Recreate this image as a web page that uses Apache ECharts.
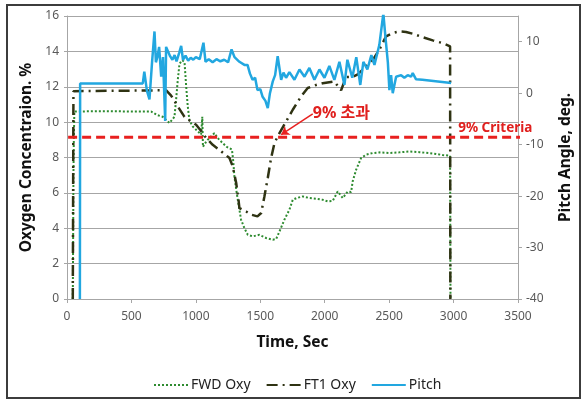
<!DOCTYPE html>
<html><head><meta charset="utf-8">
<script src="https://cdn.jsdelivr.net/npm/echarts@6/dist/echarts.min.js"></script>
<style>html,body{margin:0;padding:0;background:#fff}#c{width:582px;height:400px}</style>
</head><body><div id="c"></div>
<script>
// ---- data ----
const timeRange = [0, 3500];
const oxyTicks = [0, 2, 4, 6, 8, 10, 12, 14, 16];
const pitchTicks = [-40, -30, -20, -10, 0, 10];
const criteriaValue = 9.15;
const criteriaSpan = [-100, 3600];

const fwdOxy = [[45,0],[48,4],[50,7],[53,9],[57,10.6],[300,10.62],[500,10.6],[653,10.6],[700,10.4],[743,10.3],[795,9.95],[834,10.3],[847,11.3],[860,12.4],[873,13.3],[894,13.5],[912,13.4],[925,12.0],[937,10.9],[950,10.1],[976,9.75],[1002,9.57],[1041,9.3],[1050,10.3],[1055,8.6],[1080,8.9],[1105,9.1],[1144,9.38],[1170,9.1],[1196,8.9],[1240,8.6],[1280,8.45],[1290,7.8],[1299,6.93],[1317,6.0],[1338,5.05],[1351,4.48],[1377,4.0],[1403,3.63],[1441,3.54],[1493,3.63],[1545,3.45],[1597,3.35],[1623,3.39],[1649,3.82],[1687,4.48],[1726,5.05],[1752,5.61],[1783,5.71],[1830,5.8],[1881,5.71],[1933,5.67],[1984,5.61],[2023,5.52],[2062,5.55],[2101,6.08],[2140,5.71],[2179,6.08],[2205,6.05],[2217,6.65],[2244,7.31],[2282,7.97],[2321,8.16],[2372,8.25],[2424,8.29],[2502,8.25],[2580,8.29],[2657,8.34],[2735,8.3],[2812,8.25],[2864,8.2],[2915,8.14],[2973,8.1],[2976,0]];

const ft1Oxy = [[45,0],[50,11.75],[770,11.8],[808,11.5],[860,10.88],[912,10.3],[950,10.1],[1002,9.85],[1041,9.5],[1080,9.1],[1131,8.72],[1170,8.5],[1261,7.97],[1286,7.5],[1313,6.56],[1331,5.6],[1338,5.14],[1390,4.95],[1429,4.77],[1478,4.67],[1507,4.86],[1532,5.8],[1558,6.84],[1584,7.97],[1610,8.82],[1649,9.38],[1701,10.04],[1752,10.7],[1817,11.45],[1868,11.93],[1933,12.1],[1984,12.2],[2075,12.3],[2127,11.8],[2166,12.55],[2217,12.55],[2256,12.7],[2321,13.15],[2372,13.5],[2424,14.1],[2476,14.85],[2528,15.04],[2580,15.13],[2631,15.1],[2683,15.0],[2760,14.8],[2838,14.62],[2915,14.47],[2973,14.28],[2975,0]];

const pitch = [[100,-40],[102,1.9],[588,1.9],[600,4.2],[620,0.5],[640,-1.2],[660,6],[679,12],[690,6],[702,7.1],[715,9],[731,3.2],[745,7],[762,-5.4],[769,9.0],[782,8.7],[800,7.2],[818,6.5],[835,7.4],[850,6.2],[870,7.8],[886,9.2],[900,6.5],[920,7.3],[940,6.3],[960,6.9],[980,6.5],[1000,7.0],[1030,6.6],[1059,9.8],[1075,6.1],[1100,6.6],[1130,6.0],[1160,6.6],[1190,6.2],[1220,6.5],[1250,6.0],[1277,8.5],[1300,7.0],[1338,6.1],[1377,5.5],[1401,5.5],[1420,3.8],[1440,2.6],[1460,3.0],[1478,0.6],[1500,0.8],[1518,-0.7],[1540,-1.5],[1558,-2.9],[1575,0],[1597,2.3],[1615,3.5],[1635,7.2],[1662,2.6],[1680,4.0],[1700,3.0],[1726,4.1],[1765,2.6],[1804,4.6],[1843,3.2],[1881,4.9],[1920,2.6],[1959,4.6],[1998,3.0],[2036,5.3],[2075,2.6],[2114,6.1],[2153,1.6],[2176,6.5],[2214,3.0],[2245,7.0],[2276,1.6],[2300,6.1],[2331,4.6],[2362,7.4],[2386,5.5],[2424,9.4],[2455,15.5],[2471,11],[2490,6],[2502,0.6],[2515,3.5],[2528,0],[2541,-0.2],[2554,3.2],[2593,3.5],[2618,3.0],[2644,3.5],[2670,3.2],[2683,3.9],[2709,2.7],[2758,2.6],[2981,2.0]];

const arrowFrom = [1907, 10.46];
const arrowTo = [1662, 9.29];
const exceedLabel = {text: '9% 초과', at: [2130, 10.47]};
const criteriaLabel = {text: '9% Criteria', at: [3324, 9.67]};

// ---- chart ----
const FONT = '"Noto Sans", "Noto Sans CJK KR", sans-serif';
const gridColor = '#A6A6A6';
const labelColor = '#595959';
const chart = echarts.init(document.getElementById('c'), null, {renderer: 'canvas'});
chart.setOption({
  animation: false,
  backgroundColor: '#ffffff',
  textStyle: {fontFamily: FONT},
  graphic: [{
    type: 'rect', shape: {x: 7, y: 5, width: 573, height: 393},
    style: {fill: 'none', stroke: '#3c3c3c', lineWidth: 2}, silent: true, z: 100
  }],
  grid: {left: 67, right: 64, top: 16, bottom: 101, containLabel: false},
  legend: {
    data: ['FWD Oxy', 'FT1 Oxy', 'Pitch'],
    left: 148, top: 373,
    itemWidth: 34, itemHeight: 10, itemGap: 15,
    itemStyle: {opacity: 0},
    textStyle: {fontFamily: FONT, fontSize: 14, color: '#222', padding: [0, 0, 0, -2]}
  },
  xAxis: {
    type: 'value', min: timeRange[0], max: timeRange[1], interval: 500,
    name: 'Time, Sec', nameLocation: 'middle', nameGap: 36,
    nameTextStyle: {fontFamily: FONT, fontSize: 15.5, fontWeight: 'bold', color: '#111'},
    axisLine: {show: true, lineStyle: {color: gridColor}},
    axisTick: {show: true, length: 4, lineStyle: {color: gridColor}},
    axisLabel: {color: labelColor, fontSize: 12, fontFamily: FONT, margin: 12, formatter: v => String(v)},
    splitLine: {show: false}
  },
  yAxis: [{
    type: 'value', min: oxyTicks[0], max: oxyTicks[oxyTicks.length-1], interval: 2,
    name: 'Oxygen Concentraion. %', nameLocation: 'middle', nameGap: 31,
    nameTextStyle: {fontFamily: FONT, fontSize: 15.5, fontWeight: 'bold', color: '#111'},
    axisLine: {show: true, lineStyle: {color: gridColor}},
    axisTick: {show: true, length: 3, lineStyle: {color: gridColor}},
    axisLabel: {color: labelColor, fontSize: 12, fontFamily: FONT, margin: 8},
    splitLine: {show: true, lineStyle: {color: gridColor, width: 1}}
  }, {
    type: 'value', min: -40, max: 15, position: 'right',
    name: 'Pitch Angle, deg.', nameLocation: 'middle', nameGap: 40,
    nameTextStyle: {fontFamily: FONT, fontSize: 15.5, fontWeight: 'bold', color: '#111'},
    axisLine: {show: true, lineStyle: {color: gridColor}},
    axisTick: {show: true, length: 4, lineStyle: {color: gridColor}, customValues: pitchTicks},
    axisLabel: {color: labelColor, fontSize: 12, fontFamily: FONT, margin: 8, customValues: pitchTicks},
    splitLine: {show: false}
  }],
  series: [{
    name: 'FWD Oxy', type: 'line', yAxisIndex: 0, data: fwdOxy,
    symbol: 'none', color: '#2e8b30',
    lineStyle: {color: '#2e8b30', width: 2, type: [2, 2]}
  }, {
    name: 'FT1 Oxy', type: 'line', yAxisIndex: 0, data: ft1Oxy,
    symbol: 'none', color: '#2f3313',
    lineStyle: {color: '#2f3313', width: 2.5, type: [11, 5, 2, 5]}
  }, {
    name: 'Pitch', type: 'line', yAxisIndex: 1, data: pitch,
    symbol: 'none', color: '#22a7e0',
    lineStyle: {color: '#22a7e0', width: 2.5}
  }, {
    name: 'Criteria', type: 'line', yAxisIndex: 0, clip: false, z: 5,
    data: criteriaSpan.map(t => [t, criteriaValue]),
    symbol: 'none', color: '#e8201f',
    lineStyle: {color: '#e8201f', width: 3, type: [9, 5]},
    markLine: {
      silent: true, symbol: ['none', 'arrow'], symbolSize: 8,
      lineStyle: {color: '#e8201f', width: 1.5, type: 'solid'},
      label: {show: false},
      data: [[{coord: arrowFrom}, {coord: arrowTo}]]
    },
    markPoint: {
      silent: true, symbol: 'circle', symbolSize: 0,
      label: {show: true, position: 'inside', color: '#e0201e', fontWeight: 'bold', fontFamily: FONT},
      data: [
        {coord: exceedLabel.at, label: {formatter: exceedLabel.text, fontSize: 16}},
        {coord: criteriaLabel.at, label: {formatter: criteriaLabel.text, fontSize: 13.5}}
      ]
    }
  }]
});
</script>
</body></html>
